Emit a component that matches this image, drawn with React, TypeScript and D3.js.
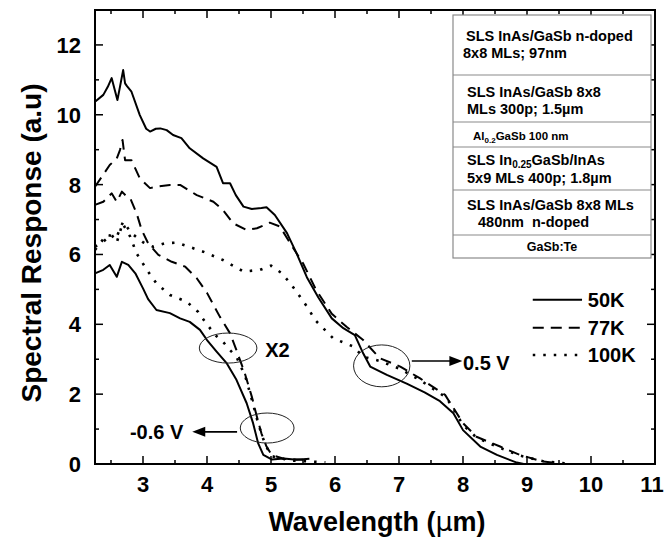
import React from 'react';
import * as d3 from 'd3';

type Pt = [number, number];

// 0.5 V bias (long-wave channel)
const k50Pos: Pt[] = [
  [2.25, 10.37], [2.38, 10.57], [2.45, 10.8], [2.51, 11.05], [2.56, 10.7], [2.6, 10.42], [2.64, 10.8],
  [2.69, 11.28], [2.72, 10.9], [2.75, 10.82], [2.82, 10.66], [2.95, 9.99], [3.05, 9.6], [3.11, 9.52],
  [3.2, 9.6], [3.27, 9.61], [3.37, 9.56], [3.47, 9.42], [3.6, 9.33], [3.73, 9.04], [3.94, 8.75],
  [4.15, 8.51], [4.25, 8.04], [4.36, 8.04], [4.45, 7.7], [4.57, 7.37], [4.7, 7.3], [4.85, 7.33],
  [4.93, 7.35], [5.06, 7.13], [5.25, 6.61], [5.4, 6.03], [5.56, 5.35], [5.74, 4.77], [5.95, 4.17],
  [6.13, 3.89], [6.31, 3.69], [6.44, 3.17], [6.55, 2.79], [6.81, 2.55], [7.12, 2.3], [7.4, 2.05],
  [7.64, 1.8], [7.85, 1.45], [8.0, 0.97], [8.27, 0.5], [8.53, 0.26], [8.84, 0.04], [8.95, 0],
];
const k77Pos: Pt[] = [
  [2.25, 7.94], [2.48, 8.56], [2.59, 8.75], [2.64, 8.99], [2.68, 9.28], [2.72, 8.7], [2.82, 8.7],
  [2.95, 8.18], [3.11, 7.9], [3.25, 7.95], [3.42, 7.99], [3.58, 7.99], [3.84, 7.7], [4.1, 7.51],
  [4.25, 7.27], [4.41, 6.89], [4.62, 6.7], [4.78, 6.75], [4.98, 6.91], [5.14, 6.8], [5.3, 6.32],
  [5.5, 5.75], [5.7, 5.0], [5.95, 4.3], [6.18, 3.93], [6.44, 3.55], [6.7, 3.03], [7.02, 2.79],
  [7.33, 2.45], [7.72, 1.98], [8.0, 1.17], [8.21, 0.78], [8.58, 0.5], [8.89, 0.26], [9.25, 0.07],
  [9.5, 0.02],
];
const k100Pos: Pt[] = [
  [2.25, 6.13], [2.43, 6.56], [2.59, 6.51], [2.69, 6.94], [2.82, 6.61], [3.0, 6.35], [3.16, 6.22],
  [3.34, 6.32], [3.53, 6.34], [3.94, 6.08], [4.25, 5.84], [4.57, 5.51], [4.83, 5.56], [5.0, 5.68],
  [5.17, 5.46], [5.32, 5.13], [5.45, 4.8], [5.58, 4.46], [5.69, 4.12], [5.97, 3.6], [6.29, 3.36],
  [6.44, 3.07], [6.7, 2.95], [7.02, 2.72], [7.33, 2.4], [7.74, 1.9], [8.0, 1.12], [8.21, 0.76],
  [8.58, 0.46], [8.89, 0.24], [9.25, 0.08], [9.6, 0.02],
];

// -0.6 V bias (mid-wave channel, 77K and 100K shown x2)
const k50Neg: Pt[] = [
  [2.25, 5.46], [2.38, 5.56], [2.48, 5.7], [2.59, 5.36], [2.67, 5.79], [2.77, 5.7], [2.88, 5.46],
  [3.0, 5.03], [3.08, 4.72], [3.21, 4.41], [3.42, 4.32], [3.58, 4.17], [3.73, 4.07], [3.89, 3.84],
  [4.0, 3.55], [4.15, 3.22], [4.31, 2.88], [4.46, 2.41], [4.62, 1.74], [4.72, 1.17], [4.8, 0.59],
  [4.88, 0.26], [5.01, 0.13], [5.2, 0.16], [5.4, 0.12], [5.6, 0.15],
];
const k77Neg: Pt[] = [
  [2.25, 7.42], [2.38, 7.51], [2.51, 7.75], [2.59, 7.51], [2.67, 7.8], [2.75, 7.65], [2.8, 7.61],
  [2.9, 7.18], [2.98, 6.7], [3.08, 6.32], [3.24, 5.99], [3.45, 5.79], [3.66, 5.65], [3.84, 5.32],
  [4.0, 4.9], [4.2, 4.22], [4.36, 3.74], [4.46, 3.26], [4.59, 2.6], [4.7, 1.93], [4.78, 1.35],
  [4.85, 0.88], [4.93, 0.5], [5.01, 0.26], [5.2, 0.15], [5.5, 0.12],
];
const k100Neg: Pt[] = [
  [2.25, 6.22], [2.38, 6.37], [2.51, 6.56], [2.59, 6.34], [2.68, 6.89], [2.8, 6.51], [2.9, 6.03],
  [3.06, 5.56], [3.21, 5.17], [3.42, 4.84], [3.68, 4.65], [3.86, 4.36], [3.97, 4.07], [4.13, 3.69],
  [4.25, 3.5], [4.36, 3.26], [4.46, 3.07], [4.6, 2.5], [4.7, 1.85], [4.78, 1.3], [4.86, 0.8],
  [4.94, 0.45], [5.02, 0.22], [5.3, 0.1], [5.85, 0.05],
];

const xTicks = [3, 4, 5, 6, 7, 8, 9, 10, 11];
const xMinor = [2.5, 3.5, 4.5, 5.5, 6.5, 7.5, 8.5, 9.5, 10.5];
const yTicks = [0, 2, 4, 6, 8, 10, 12];
const yMinor = [1, 3, 5, 7, 9, 11];

const legendLabels = ['50K', '77K', '100K'];
const layerRows: string[][] = [
  ['SLS InAs/GaSb n-doped', '8x8 MLs; 97nm'],
  ['SLS InAs/GaSb 8x8', 'MLs 300p; 1.5µm'],
  ['Al0.2GaSb 100 nm'],
  ['SLS In0.25GaSb/InAs', '5x9 MLs 400p; 1.8µm'],
  ['SLS InAs/GaSb 8x8 MLs', '480nm  n-doped'],
  ['GaSb:Te'],
];

const W = 665;
const H = 541;
const M = { left: 95, right: 655, top: 10, bottom: 464 };
const FONT = 'Arial, "Liberation Sans", Helvetica, sans-serif';

const solid = { strokeDasharray: 'none', strokeWidth: 2 };
const dashed = { strokeDasharray: '11 7', strokeWidth: 2 };
const dotted = { strokeDasharray: '2.5 8', strokeWidth: 2.6 };
const styles = [solid, dashed, dotted];

export default function App() {
  const x = d3.scaleLinear().domain([2.25, 11]).range([M.left, M.right]);
  const y = d3.scaleLinear().domain([0, 13]).range([M.bottom, M.top]);
  const line = d3.line<Pt>().x(d => x(d[0])).y(d => y(d[1])).curve(d3.curveLinear);

  const series: [Pt[], typeof solid][] = [
    [k50Pos, solid], [k77Pos, dashed], [k100Pos, dotted],
    [k50Neg, solid], [k77Neg, dashed], [k100Neg, dotted],
  ];

  // table geometry (px)
  const tLeft = 453, tRight = 651;
  const rowEdges = [15, 75, 122, 147, 190, 235, 258];

  const ell = (cx: number, cy: number, rx: number, ry: number, key: string) => (
    <ellipse key={key} cx={x(cx)} cy={y(cy)} rx={x(cx + rx) - x(cx)} ry={y(cy - ry) - y(cy)}
      fill="none" stroke="#222" strokeWidth={1} />
  );

  return (
    <svg width={W} height={H} style={{ position: 'absolute', left: 0, top: 0, background: '#fff' }}
      fontFamily={FONT}>
      <rect width={W} height={H} fill="#fff" />

      {series.map(([d, s], i) => (
        <path key={i} d={line(d) || ''} fill="none" stroke="#000" strokeWidth={s.strokeWidth}
          strokeDasharray={s.strokeDasharray} strokeLinejoin="round" />
      ))}

      {/* frame */}
      <rect x={M.left} y={M.top} width={M.right - M.left} height={M.bottom - M.top}
        fill="none" stroke="#000" strokeWidth={2} />

      {/* ticks */}
      {xTicks.map(t => (
        <g key={'xt' + t}>
          <line x1={x(t)} x2={x(t)} y1={M.bottom} y2={M.bottom - 8} stroke="#000" strokeWidth={1.5} />
          <line x1={x(t)} x2={x(t)} y1={M.top} y2={M.top + 8} stroke="#000" strokeWidth={1.5} />
          <text x={t === 11 ? x(t) - 3 : x(t)} y={M.bottom + 28} textAnchor="middle" fontSize={22}
            fontWeight="bold">{t}</text>
        </g>
      ))}
      {xMinor.map(t => (
        <g key={'xm' + t}>
          <line x1={x(t)} x2={x(t)} y1={M.bottom} y2={M.bottom - 4} stroke="#000" strokeWidth={1.5} />
          <line x1={x(t)} x2={x(t)} y1={M.top} y2={M.top + 4} stroke="#000" strokeWidth={1.5} />
        </g>
      ))}
      {yTicks.map(t => (
        <g key={'yt' + t}>
          <line x1={M.left} x2={M.left + 8} y1={y(t)} y2={y(t)} stroke="#000" strokeWidth={1.5} />
          <line x1={M.right} x2={M.right - 8} y1={y(t)} y2={y(t)} stroke="#000" strokeWidth={1.5} />
          <text x={M.left - 14} y={y(t)} dy="0.36em" textAnchor="end" fontSize={22} fontWeight="bold">{t}</text>
        </g>
      ))}
      {yMinor.map(t => (
        <g key={'ym' + t}>
          <line x1={M.left} x2={M.left + 4} y1={y(t)} y2={y(t)} stroke="#000" strokeWidth={1.5} />
          <line x1={M.right} x2={M.right - 4} y1={y(t)} y2={y(t)} stroke="#000" strokeWidth={1.5} />
        </g>
      ))}

      {/* axis titles */}
      <text x={377} y={531} textAnchor="middle" fontSize={27} fontWeight="bold">
        Wavelength (<tspan fontWeight="normal" fontFamily="DejaVu Sans">µ</tspan>m)
      </text>
      <text transform={`translate(41,${(M.top + M.bottom) / 2 + 6}) rotate(-90)`} textAnchor="middle"
        fontSize={28} fontWeight="bold">Spectral Response (a.u)</text>

      {/* layer table */}
      <rect x={tLeft} y={rowEdges[0]} width={tRight - tLeft} height={rowEdges[6] - rowEdges[0]}
        fill="#fff" stroke="#8a8a8a" strokeWidth={1.2} />
      {rowEdges.slice(1, 6).map(e => (
        <line key={'re' + e} x1={tLeft} x2={tRight} y1={e} y2={e} stroke="#8a8a8a" strokeWidth={1.2} />
      ))}
      <g fontSize={14.5} fontWeight="bold">
        <text x={466} y={41}>{layerRows[0][0]}</text>
        <text x={463} y={58}>{layerRows[0][1]}</text>
        <text x={467} y={97}>{layerRows[1][0]}</text>
        <text x={467} y={114}>{layerRows[1][1]}</text>
        <text x={473} y={140} fontSize={11.5}>Al<tspan fontSize={8} dy={3}>0.2</tspan><tspan dy={-3}>GaSb 100 nm</tspan></text>
        <text x={467} y={165}>SLS In<tspan fontSize={10} dy={3}>0.25</tspan><tspan dy={-3}>GaSb/InAs</tspan></text>
        <text x={467} y={183}>{layerRows[3][1]}</text>
        <text x={467} y={210}>{layerRows[4][0]}</text>
        <text x={478} y={227} style={{ whiteSpace: 'pre' }}>{layerRows[4][1]}</text>
        <text x={(tLeft + tRight) / 2} y={251} textAnchor="middle" fontSize={12.5}>{layerRows[5][0]}</text>
      </g>

      {/* legend */}
      {legendLabels.map((lab, i) => {
        const ly = y([4.7, 3.9, 3.12][i]);
        const s = styles[i];
        return (
          <g key={lab}>
            <line x1={x(9.09)} x2={x(9.86)} y1={ly} y2={ly} stroke="#000" strokeWidth={s.strokeWidth}
              strokeDasharray={s.strokeDasharray} />
            <text x={x(9.95)} y={ly} dy="0.36em" fontSize={20} fontWeight="bold">{lab}</text>
          </g>
        );
      })}

      {/* annotations */}
      {ell(4.33, 3.32, 0.45, 0.43, 'e1')}
      {ell(4.94, 1.03, 0.42, 0.43, 'e2')}
      {ell(6.73, 2.81, 0.44, 0.6, 'e3')}
      <text x={x(4.91)} y={y(3.26)} dy="0.36em" fontSize={20} fontWeight="bold">X2</text>

      <line x1={x(7.2)} x2={x(7.86)} y1={y(2.95)} y2={y(2.95)} stroke="#000" strokeWidth={1.6} />
      <path d={`M${x(7.99)},${y(2.95)} l-13,-5 l0,10 z`} fill="#000" />
      <text x={x(8.0)} y={y(2.9)} dy="0.36em" fontSize={20} fontWeight="bold">0.5 V</text>

      <line x1={x(4.47)} x2={x(3.9)} y1={y(0.92)} y2={y(0.92)} stroke="#000" strokeWidth={1.6} />
      <path d={`M${x(3.77)},${y(0.92)} l13,-5 l0,10 z`} fill="#000" />
      <text x={x(3.63)} y={y(0.92)} dy="0.36em" textAnchor="end" fontSize={20} fontWeight="bold">-0.6 V</text>
    </svg>
  );
}
